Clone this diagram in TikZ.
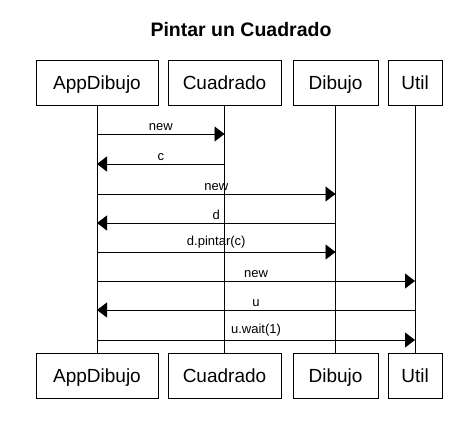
\documentclass[tikz,border=0pt]{standalone}
\usepackage{fontspec}
\setmainfont{Liberation Sans}
\usetikzlibrary{arrows.meta}
\begin{document}
\begin{tikzpicture}[x=1pt,y=-1pt,
  actor/.style={draw,line width=1pt,minimum height=45pt,inner sep=0pt,text height=18pt,text depth=4.4pt,font=\fontsize{19}{22}\selectfont},
  life/.style={line width=0.9pt},
  msg/.style={line width=0.9pt,-{Triangle[length=10pt,width=15pt]}},
  lbl/.style={font=\fontsize{13}{15}\selectfont,inner sep=0pt,anchor=base}]
\useasboundingbox (0,0) rectangle (474,429);
\node[font=\bfseries\fontsize{19.5}{22}\selectfont] (title) at (241,30) {Pintar un Cuadrado};
% top
\node[actor,minimum width=122pt] (appT) at (97,82.5) {AppDibujo};
\node[actor,minimum width=113pt] (cuaT) at (224.5,82.5) {Cuadrado};
\node[actor,minimum width=85pt] (dibT) at (335.5,82.5) {Dibujo};
\node[actor,minimum width=54pt] (utiT) at (415,82.5) {Util};
% bottom
\node[actor,minimum width=122pt] (appB) at (97,375.5) {AppDibujo};
\node[actor,minimum width=113pt] (cuaB) at (224.5,375.5) {Cuadrado};
\node[actor,minimum width=85pt] (dibB) at (335.5,375.5) {Dibujo};
\node[actor,minimum width=54pt] (utiB) at (415,375.5) {Util};
% lifelines
\draw[life] (appT) -- (appB);
\draw[life] (cuaT) -- (cuaB);
\draw[life] (dibT) -- (dibB);
\draw[life] (utiT) -- (utiB);
% messages
\draw[msg] (appT.south |- 0,134) -- node[lbl,above=3pt]{new} (cuaT.south |- 0,134);
\draw[msg] (cuaT.south |- 0,164) -- node[lbl,above=3pt]{c} (appT.south |- 0,164);
\draw[msg] (appT.south |- 0,194) -- node[lbl,above=3pt]{new} (dibT.south |- 0,194);
\draw[msg] (dibT.south |- 0,223) -- node[lbl,above=3pt]{d} (appT.south |- 0,223);
\draw[msg] (appT.south |- 0,252) -- node[lbl,above=3pt]{d.pintar(c)} (dibT.south |- 0,252);
\draw[msg] (appT.south |- 0,281) -- node[lbl,above=3pt]{new} (utiT.south |- 0,281);
\draw[msg] (utiT.south |- 0,310) -- node[lbl,above=3pt]{u} (appT.south |- 0,310);
\draw[msg] (appT.south |- 0,340) -- node[lbl,above=3pt]{u.wait(1)} (utiT.south |- 0,340);
\end{tikzpicture}
\end{document}
